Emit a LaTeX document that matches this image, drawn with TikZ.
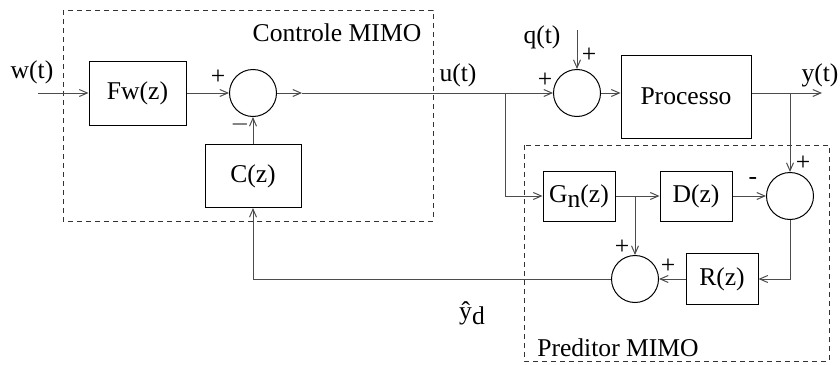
\documentclass[tikz,border=0pt]{standalone}
\usepackage{fontspec}
\setmainfont{Liberation Serif}
\usetikzlibrary{arrows.meta}

\begin{document}
\begin{tikzpicture}[x=0.5pt, y=-0.5pt, >={Straight Barb[length=4pt,width=3.5pt]},
    line width=0.5pt, font=\fontsize{12.8}{15}\selectfont]

% --- Stijlen ---
\tikzset{
    block/.style={
        draw,
        inner sep=0pt
    },
    sumnode/.style={
        circle,
        draw,
        minimum size=23.5pt,
        inner sep=0pt
    },
    signal/.style={
        draw=black!70,
        ->
    },
    wire/.style={
        draw=black!70
    },
    groupbox/.style={
        draw=black!80,
        dash pattern=on 2.5pt off 2pt
    }
}

\useasboundingbox (0,0) rectangle (840,364);

% --- Gestippelde groepen ---
\draw[groupbox] (63,10) rectangle (433,221);
\draw[groupbox] (524,145) rectangle (829,361);

\node (ctrltxt) at (337,33) {Controle MIMO};
\node (predtxt) at (618,348) {Preditor MIMO};

% --- Blokken ---
\node[block, minimum width=48.5pt, minimum height=32pt] (fw) at (137.5,93) {Fw(z)};
\node[block, minimum width=48pt, minimum height=31.5pt] (cz) at (253,176) {C(z)};
\node[block, minimum width=65pt, minimum height=41.5pt] (proc) at (686,96.5) {Processo};
\node[block, minimum width=36pt, minimum height=25pt] (gn) at (579,196) {G\raisebox{-0.45ex}{n}(z)};
\node[block, minimum width=36pt, minimum height=25pt] (dz) at (696,196) {D(z)};
\node[block, minimum width=36pt, minimum height=25.5pt] (rz) at (722,279) {R(z)};

% --- Sommatiepunten ---
\node[sumnode] (sum1) at (253,93) {};
\node[sumnode] (sum2) at (577,93) {};
\node[sumnode] (sum3) at (790,196) {};
\node[sumnode] (sum4) at (635,279) {};

% --- Hulpcoordinaten ---
\coordinate (win) at (38,93);
\coordinate (s1out) at (302,93);
\coordinate (ubranch) at (505,93);
\coordinate (qin) at (577,30);
\coordinate (ybranch) at (790,93);
\coordinate (yout) at (822,93);
\coordinate (gbranch) at (635,196);

% --- Verbindingen ---
\draw[signal] (win) -- (fw);
\draw[signal] (fw) -- (sum1);
\draw[signal] (cz) -- (sum1);
\draw[signal] (sum1) -- (s1out);
\draw[signal] (s1out) -- (sum2);
\draw[signal] (ubranch) |- (gn);
\draw[signal] (qin) -- (sum2);
\draw[signal] (sum2) -- (sum2 -| proc.west);
\draw[wire] (sum2 -| proc.east) -- (ybranch);
\draw[signal] (ybranch) -- (yout);
\draw[signal] (ybranch) -- (sum3);
\draw[signal] (gn) -- (dz);
\draw[signal] (gbranch) -- (sum4);
\draw[signal] (dz) -- (sum3);
\draw[signal] (sum3) |- (rz);
\draw[signal] (rz) -- (sum4);
\draw[signal] (sum4) -| (cz);

% --- Signaalnamen ---
\node (wlab) at (32,72) {w(t)};
\node (ulab) at (458,75) {u(t)};
\node (qlab) at (542,37) {q(t)};
\node (ylab) at (820,75) {y(t)};
\node (ydlab) at (472,313) {\^{y}\raisebox{-0.45ex}{d}};

% --- Tekens ---
\node (s1plus) at (218,77) {+};
\node (s1min) at (240,124) {$-$};
\node (s2plus) at (545,80) {+};
\node (s2top) at (589,55) {+};
\node (s3plus) at (803,163) {+};
\node (s3min) at (753,181) {-};
\node (s4top) at (622,247) {+};
\node (s4plus) at (668,266) {+};

\end{tikzpicture}
\end{document}
